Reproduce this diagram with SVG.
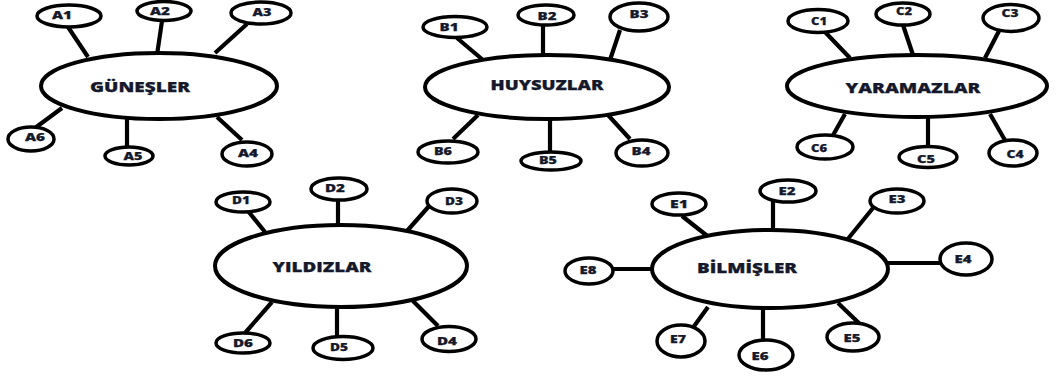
<svg xmlns="http://www.w3.org/2000/svg" width="1060" height="376" viewBox="0 0 1060 376">
  <style>
    .hub { fill: #fff; stroke: #000; stroke-width: 4; }
    .leaf { fill: #fff; stroke: #000; stroke-width: 3.5; }
    .link { stroke: #000; stroke-width: 4.2; stroke-linecap: butt; fill: none; }
    .t { font-family: "Open Sans", "Liberation Sans", sans-serif; font-weight: 800; fill: #15192b; stroke: #15192b; stroke-width: 0.25; text-anchor: middle; }
    .big { font-size: 14px; }
    .small { font-size: 10.5px; }
  </style>
  <rect width="1060" height="376" fill="#fff"/>

  <!-- spokes between each group centre and its members -->
  <g id="connectors">
    <!-- GÜNEŞLER -->
    <line class="link" x1="68" y1="27" x2="88" y2="57"/>
    <line class="link" x1="162" y1="21" x2="157" y2="55"/>
    <line class="link" x1="247" y1="24" x2="215" y2="53"/>
    <line class="link" x1="62" y1="108" x2="35" y2="128"/>
    <line class="link" x1="127" y1="118" x2="127" y2="147"/>
    <line class="link" x1="217" y1="117" x2="242" y2="140"/>
    <!-- HUYSUZLAR -->
    <line class="link" x1="457" y1="38" x2="483" y2="60"/>
    <line class="link" x1="543" y1="25" x2="543" y2="57"/>
    <line class="link" x1="620" y1="30" x2="610" y2="60"/>
    <line class="link" x1="478" y1="115" x2="453" y2="139"/>
    <line class="link" x1="550" y1="119" x2="550" y2="152"/>
    <line class="link" x1="608" y1="115" x2="630" y2="139"/>
    <!-- YARAMAZLAR -->
    <line class="link" x1="825" y1="32" x2="850" y2="58"/>
    <line class="link" x1="903" y1="25" x2="913" y2="55"/>
    <line class="link" x1="1000" y1="29" x2="985" y2="58"/>
    <line class="link" x1="845" y1="114" x2="832" y2="137"/>
    <line class="link" x1="928" y1="117" x2="928" y2="147"/>
    <line class="link" x1="990" y1="114" x2="1006" y2="142"/>
    <!-- YILDIZLAR -->
    <line class="link" x1="248" y1="211" x2="265" y2="232"/>
    <line class="link" x1="338" y1="199" x2="338" y2="229"/>
    <line class="link" x1="430" y1="205" x2="407" y2="231"/>
    <line class="link" x1="245" y1="333" x2="272" y2="302"/>
    <line class="link" x1="337" y1="308" x2="337" y2="337"/>
    <line class="link" x1="413" y1="301" x2="438" y2="326"/>
    <!-- BİLMİŞLER -->
    <line class="link" x1="682" y1="216" x2="715" y2="242"/>
    <line class="link" x1="773" y1="201" x2="773" y2="236"/>
    <line class="link" x1="873" y1="208" x2="847" y2="240"/>
    <line class="link" x1="887" y1="263" x2="940" y2="263"/>
    <line class="link" x1="838" y1="303" x2="864" y2="328"/>
    <line class="link" x1="763" y1="309" x2="763" y2="340"/>
    <line class="link" x1="708" y1="307" x2="692" y2="329"/>
    <line class="link" x1="612" y1="269" x2="655" y2="269"/>
  </g>

  <!-- GÜNEŞLER group -->
  <g id="gunesler">
    <ellipse class="hub" cx="159" cy="86" rx="118" ry="33"/>
    <text class="t big" x="140" y="92" textLength="100" lengthAdjust="spacingAndGlyphs">GÜNEŞLER</text>
  </g>
  <g id="a1"><ellipse class="leaf" cx="69" cy="16" rx="32" ry="11"/><text class="t small" x="62" y="19" textLength="20" lengthAdjust="spacingAndGlyphs">A1</text></g>
  <g id="a2"><ellipse class="leaf" cx="164" cy="11" rx="27" ry="9.5"/><text class="t small" x="160" y="15" textLength="20" lengthAdjust="spacingAndGlyphs">A2</text></g>
  <g id="a3"><ellipse class="leaf" cx="261" cy="13" rx="30" ry="11"/><text class="t small" x="262" y="16" textLength="19" lengthAdjust="spacingAndGlyphs">A3</text></g>
  <g id="a4"><ellipse class="leaf" cx="247" cy="154" rx="25" ry="12"/><text class="t small" x="248" y="157" textLength="20" lengthAdjust="spacingAndGlyphs">A4</text></g>
  <g id="a5"><ellipse class="leaf" cx="129" cy="156" rx="24" ry="9"/><text class="t small" x="133" y="160" textLength="19" lengthAdjust="spacingAndGlyphs">A5</text></g>
  <g id="a6"><ellipse class="leaf" cx="31" cy="139" rx="23" ry="12"/><text class="t small" x="35" y="141" textLength="20" lengthAdjust="spacingAndGlyphs">A6</text></g>

  <!-- HUYSUZLAR group -->
  <g id="huysuzlar">
    <ellipse class="hub" cx="547" cy="87" rx="122" ry="32"/>
    <text class="t big" x="547" y="90" textLength="113" lengthAdjust="spacingAndGlyphs">HUYSUZLAR</text>
  </g>
  <g id="b1"><ellipse class="leaf" cx="455" cy="27" rx="32" ry="10.5"/><text class="t small" x="449" y="31" textLength="19" lengthAdjust="spacingAndGlyphs">B1</text></g>
  <g id="b2"><ellipse class="leaf" cx="546" cy="15" rx="28" ry="10"/><text class="t small" x="547" y="20" textLength="19" lengthAdjust="spacingAndGlyphs">B2</text></g>
  <g id="b3"><ellipse class="leaf" cx="639" cy="17" rx="29" ry="14"/><text class="t small" x="639" y="18" textLength="19" lengthAdjust="spacingAndGlyphs">B3</text></g>
  <g id="b4"><ellipse class="leaf" cx="642" cy="153" rx="26" ry="13"/><text class="t small" x="641" y="155" textLength="19" lengthAdjust="spacingAndGlyphs">B4</text></g>
  <g id="b5"><ellipse class="leaf" cx="551" cy="161" rx="30" ry="9"/><text class="t small" x="548" y="164" textLength="18" lengthAdjust="spacingAndGlyphs">B5</text></g>
  <g id="b6"><ellipse class="leaf" cx="448" cy="152" rx="30" ry="11"/><text class="t small" x="443" y="155" textLength="18" lengthAdjust="spacingAndGlyphs">B6</text></g>

  <!-- YARAMAZLAR group -->
  <g id="yaramazlar">
    <ellipse class="hub" cx="917" cy="86" rx="130" ry="31"/>
    <text class="t big" x="913" y="93" textLength="135" lengthAdjust="spacingAndGlyphs">YARAMAZLAR</text>
  </g>
  <g id="c1"><ellipse class="leaf" cx="818" cy="21" rx="30" ry="11.5"/><text class="t small" x="819" y="25" textLength="16" lengthAdjust="spacingAndGlyphs">C1</text></g>
  <g id="c2"><ellipse class="leaf" cx="903" cy="14" rx="27" ry="11"/><text class="t small" x="904" y="15" textLength="16" lengthAdjust="spacingAndGlyphs">C2</text></g>
  <g id="c3"><ellipse class="leaf" cx="1011" cy="18" rx="28" ry="13.5"/><text class="t small" x="1010" y="17" textLength="17" lengthAdjust="spacingAndGlyphs">C3</text></g>
  <g id="c4"><ellipse class="leaf" cx="1013" cy="153" rx="24" ry="13"/><text class="t small" x="1015" y="158" textLength="17" lengthAdjust="spacingAndGlyphs">C4</text></g>
  <g id="c5"><ellipse class="leaf" cx="928" cy="157" rx="29" ry="10.5"/><text class="t small" x="926" y="163" textLength="18" lengthAdjust="spacingAndGlyphs">C5</text></g>
  <g id="c6"><ellipse class="leaf" cx="825" cy="147" rx="28" ry="12"/><text class="t small" x="819" y="152" textLength="16" lengthAdjust="spacingAndGlyphs">C6</text></g>

  <!-- YILDIZLAR group -->
  <g id="yildizlar">
    <ellipse class="hub" cx="341" cy="266" rx="126" ry="41"/>
    <text class="t big" x="322" y="272" textLength="99" lengthAdjust="spacingAndGlyphs">YILDIZLAR</text>
  </g>
  <g id="d1"><ellipse class="leaf" cx="243" cy="202" rx="27" ry="10"/><text class="t small" x="241" y="204" textLength="18" lengthAdjust="spacingAndGlyphs">D1</text></g>
  <g id="d2"><ellipse class="leaf" cx="339" cy="189" rx="28" ry="11"/><text class="t small" x="335" y="192" textLength="20" lengthAdjust="spacingAndGlyphs">D2</text></g>
  <g id="d3"><ellipse class="leaf" cx="452" cy="201" rx="25" ry="12"/><text class="t small" x="454" y="205" textLength="18" lengthAdjust="spacingAndGlyphs">D3</text></g>
  <g id="d4"><ellipse class="leaf" cx="449" cy="339" rx="27" ry="12.5"/><text class="t small" x="447" y="345" textLength="20" lengthAdjust="spacingAndGlyphs">D4</text></g>
  <g id="d5"><ellipse class="leaf" cx="343" cy="348" rx="30" ry="11.5"/><text class="t small" x="339" y="351" textLength="18" lengthAdjust="spacingAndGlyphs">D5</text></g>
  <g id="d6"><ellipse class="leaf" cx="243" cy="343" rx="27" ry="10"/><text class="t small" x="243" y="347" textLength="20" lengthAdjust="spacingAndGlyphs">D6</text></g>

  <!-- BİLMİŞLER group -->
  <g id="bilmisler">
    <ellipse class="hub" cx="770" cy="269" rx="118" ry="39"/>
    <text class="t big" x="747" y="273" textLength="100" lengthAdjust="spacingAndGlyphs">BİLMİŞLER</text>
  </g>
  <g id="e1"><ellipse class="leaf" cx="679" cy="204" rx="27" ry="11"/><text class="t small" x="679" y="208" textLength="18" lengthAdjust="spacingAndGlyphs">E1</text></g>
  <g id="e2"><ellipse class="leaf" cx="788" cy="191" rx="28" ry="11"/><text class="t small" x="787" y="195" textLength="17" lengthAdjust="spacingAndGlyphs">E2</text></g>
  <g id="e3"><ellipse class="leaf" cx="897" cy="201" rx="27" ry="12"/><text class="t small" x="897" y="203" textLength="17" lengthAdjust="spacingAndGlyphs">E3</text></g>
  <g id="e4"><ellipse class="leaf" cx="966" cy="259" rx="26" ry="16"/><text class="t small" x="963" y="263" textLength="17" lengthAdjust="spacingAndGlyphs">E4</text></g>
  <g id="e5"><ellipse class="leaf" cx="853" cy="337" rx="26" ry="14"/><text class="t small" x="852" y="342" textLength="17" lengthAdjust="spacingAndGlyphs">E5</text></g>
  <g id="e6"><ellipse class="leaf" cx="766" cy="355" rx="27" ry="15"/><text class="t small" x="760" y="360" textLength="17" lengthAdjust="spacingAndGlyphs">E6</text></g>
  <g id="e7"><ellipse class="leaf" cx="681" cy="341" rx="24" ry="16"/><text class="t small" x="678" y="343" textLength="16" lengthAdjust="spacingAndGlyphs">E7</text></g>
  <g id="e8"><ellipse class="leaf" cx="589" cy="271" rx="24" ry="13"/><text class="t small" x="588" y="274" textLength="17" lengthAdjust="spacingAndGlyphs">E8</text></g>
</svg>
